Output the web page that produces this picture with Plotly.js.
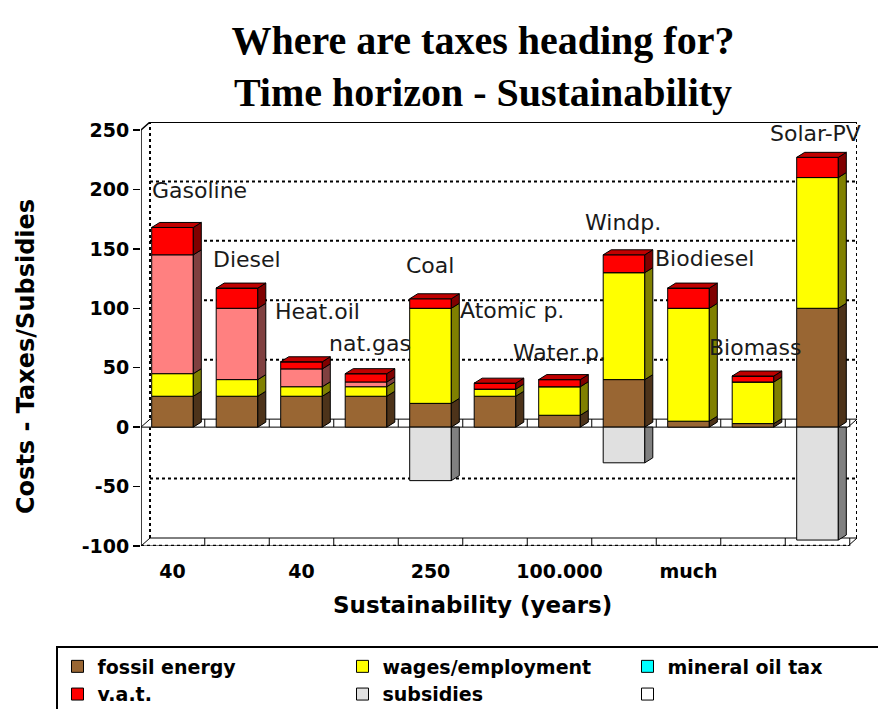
<!DOCTYPE html>
<html>
<head>
<meta charset="utf-8">
<script src="https://cdn.plot.ly/plotly-3.0.1.min.js"></script>
<style>
  html, body { margin: 0; padding: 0; background: #ffffff; }
  #chart { width: 878px; height: 709px; }
</style>
</head>
<body>
<div id="chart"></div>
<script>
// ---- data -------------------------------------------------------------
const categories = ['Gasoline', 'Diesel', 'Heat.oil', 'nat.gas', 'Coal', 'Atomic p.',
                    'Water p.', 'Windp.', 'Biodiesel', 'Biomass', 'Solar-PV'];
const sustainabilityYears = ['40', '', '40', '', '250', '', '100.000', '', 'much', '', ''];

const fossilEnergy    = [26, 26, 26, 26, 20, 26, 10, 40,  5,  3, 100];
const wagesEmployment = [19, 14,  8,  8, 80,  6, 24, 90, 95, 35, 110];
const mineralOilTax   = [100, 60, 15, 4,  0,  0,  0,  0,  0,  0,   0];
const vat             = [23, 17,  6,  7,  8,  5,  6, 15, 17,  5,  17];
const subsidies       = [ 0,  0,  0,  0, -45, 0,  0, -30, 0,  0, -95];

const yTicks = [-100, -50, 0, 50, 100, 150, 200, 250];

// ---- geometry of the pseudo-3D box (pixels) -----------------------------
const FRONT_LEFT = 141, FRONT_RIGHT = 848, FRONT_TOP = 130, FRONT_BOTTOM = 546;
const WALL_DX = 9, WALL_DY = 8;     // depth of the back wall
const BAR_DX = 8, BAR_DY = 5;       // depth of each column
const SLOT = 64.5;                  // width of one category
const FIRST_CENTER = 172.5;
const BAR_W = 0.645;                // column width in category units
const Y_MIN = -100, Y_MAX = 250;

const yPx = (FRONT_BOTTOM - FRONT_TOP) / (Y_MAX - Y_MIN);
const xStart = -(FIRST_CENTER - FRONT_LEFT) / SLOT;
const xFrontEnd = xStart + (FRONT_RIGHT - FRONT_LEFT) / SLOT;
const wdx = WALL_DX / SLOT, wdy = WALL_DY / yPx;
const bdx = BAR_DX / SLOT, bdy = BAR_DY / yPx;
const xEnd = xFrontEnd + wdx;
const yEnd = Y_MAX + wdy;
const plotW = FRONT_RIGHT + WALL_DX - FRONT_LEFT;
const plotH = FRONT_BOTTOM - FRONT_TOP + WALL_DY;
const paperX = px => (px - FRONT_LEFT) / plotW;
const paperY = py => (FRONT_BOTTOM - py) / plotH;

const xs = categories.map((_, i) => i);

// ---- series styling ----------------------------------------------------
const stack = [
  { name: 'fossil energy',     values: fossilEnergy,    color: '#996633', side: '#4d331a', top: '#7a5229' },
  { name: 'wages/employment',  values: wagesEmployment, color: '#ffff00', side: '#808000', top: '#cccc00' },
  { name: 'mineral oil tax',   values: mineralOilTax,   color: '#ff8080', side: '#804040', top: '#cc6666' },
  { name: 'v.a.t.',            values: vat,             color: '#ff0000', side: '#800000', top: '#c00000' }
];
const subsidyStyle = { color: '#e0e0e0', side: '#808080' };

const outline = { color: '#000000', width: 1 };
const traces = [];
const rank = { 'fossil energy': 1, 'wages/employment': 2, 'v.a.t.': 4 };
stack.forEach(s => {
  traces.push({
    type: 'bar', x: xs, y: s.values, name: s.name, width: BAR_W,
    marker: { color: s.color, line: outline },
    showlegend: s.name !== 'mineral oil tax',
    legendrank: rank[s.name] || 1000,
    hoverinfo: 'skip'
  });
});
traces.push({
  type: 'bar', x: xs, y: subsidies, name: 'subsidies', width: BAR_W,
  marker: { color: subsidyStyle.color, line: outline },
  legendrank: 5, hoverinfo: 'skip'
});
// legend keys without columns of their own
traces.push({
  type: 'bar', x: [null], y: [null], name: 'mineral oil tax',
  marker: { color: '#00ffff', line: outline }, legendrank: 3, hoverinfo: 'skip'
});
traces.push({
  type: 'bar', x: [null], y: [null], name: ' ',
  marker: { color: '#ffffff', line: outline }, legendrank: 6, hoverinfo: 'skip'
});

// ---- shapes: walls, floors, column depth ---------------------------------
function poly(pts, fill, layer, lineColor) {
  return {
    type: 'path', xref: 'x', yref: 'y', layer: layer || 'above',
    path: 'M' + pts.map(p => p[0] + ',' + p[1]).join('L') + 'Z',
    fillcolor: fill, line: { color: lineColor || '#000', width: 1 }
  };
}
function seg(x0, y0, x1, y1, dash, width, layer) {
  return {
    type: 'line', xref: 'x', yref: 'y', x0, y0, x1, y1, layer: layer || 'below',
    line: { color: '#000', width: width || 1.5, dash: dash || 'solid' }
  };
}
const dotted = '3px,3px';
const shapes = [];

// back wall gridlines
yTicks.filter(v => v !== 0 && v !== Y_MIN && v !== Y_MAX).forEach(v => {
  shapes.push(seg(xStart + wdx, v + wdy, xEnd, v + wdy, dotted, 2));
});
// wall edges
shapes.push(seg(xStart + wdx, Y_MIN + wdy, xStart + wdx, yEnd, dotted, 2));
shapes.push(seg(xEnd, Y_MIN + wdy, xEnd, yEnd, dotted, 2));
shapes.push(seg(xStart + wdx, yEnd, xEnd, yEnd, 'solid', 2));
shapes.push(seg(xStart, Y_MAX, xStart + wdx, yEnd, 'solid', 1.5));
shapes.push(seg(xStart, Y_MIN, xStart, Y_MAX, 'solid', 1.5));

// floor slabs at the bottom and at zero, divided per category
[Y_MIN, 0].forEach(base => {
  shapes.push(poly([[xStart, base], [xFrontEnd, base], [xEnd, base + wdy], [xStart + wdx, base + wdy]],
                   '#ffffff', 'below'));
  for (let i = 0; i < categories.length; i++) {
    const b = i + 0.5;
    shapes.push(seg(b, base, b, base + wdy, 'solid', 1));
  }
});
shapes.push(seg(xStart, Y_MIN, xFrontEnd, Y_MIN, dotted, 2.5, 'above'));

// column sides and tops
xs.forEach(i => {
  const xl = i - BAR_W / 2, xr = i + BAR_W / 2;
  let base = 0, topStyle = null;
  stack.forEach(s => {
    const v = s.values[i];
    if (v > 0) {
      const t = base + v;
      shapes.push(poly([[xr, base], [xr + bdx, base + bdy], [xr + bdx, t + bdy], [xr, t]], s.side));
      base = t;
      topStyle = s;
    }
  });
  if (topStyle) {
    shapes.push(poly([[xl, base], [xl + bdx, base + bdy], [xr + bdx, base + bdy], [xr, base]], topStyle.top));
  }
  const sv = subsidies[i];
  if (sv < 0) {
    shapes.push(poly([[xr, sv], [xr + bdx, sv + bdy], [xr + bdx, 0], [xr, 0]], subsidyStyle.side));
  }
});

// ---- category names above the columns ---------------------------------
const labelHeight = [199, 141, 97, 70, 136, 98, 63, 172, 142, 67, 247];
const labelShift  = [-23, -26, -29, -39, -27, -37, -49, -41, -36, -46, -50];
const annotations = categories.map((c, i) => ({
  x: i, y: labelHeight[i], xref: 'x', yref: 'y', text: c, showarrow: false,
  xanchor: 'left', yanchor: 'middle', xshift: labelShift[i],
  font: { family: 'DejaVu Sans', size: 22, color: '#1a1a1a' }
}));

// axis titles
const axisTitleFont = { family: 'DejaVu Sans', size: 23, weight: 'bold', color: '#000' };
annotations.push({
  xref: 'paper', yref: 'paper', x: paperX(472), y: paperY(605),
  xanchor: 'center', yanchor: 'middle', showarrow: false,
  text: 'Sustainability (years)', font: axisTitleFont
});
annotations.push({
  xref: 'paper', yref: 'paper', x: paperX(26), y: paperY(357),
  xanchor: 'center', yanchor: 'middle', showarrow: false, textangle: -90,
  text: 'Costs - Taxes/Subsidies', font: Object.assign({}, axisTitleFont, { size: 24 })
});

const tickIdx = xs.filter(i => sustainabilityYears[i] !== '');

const layout = {
  width: 878, height: 709,
  paper_bgcolor: '#ffffff', plot_bgcolor: 'rgba(0,0,0,0)',
  margin: { l: FRONT_LEFT, r: 878 - (FRONT_RIGHT + WALL_DX), t: FRONT_TOP - WALL_DY,
            b: 709 - FRONT_BOTTOM, autoexpand: false },
  barmode: 'relative',
  title: {
    text: 'Where are taxes heading for?<br>Time horizon - Sustainability',
    font: { family: 'Liberation Serif', size: 40, weight: 'bold', color: '#000' },
    xref: 'container', x: 483 / 878, xanchor: 'center',
    yref: 'container', y: 1 - 54 / 709, yanchor: 'top'
  },
  xaxis: {
    range: [xStart, xEnd], showgrid: false, zeroline: false, showline: false,
    tickmode: 'array', tickvals: tickIdx, ticktext: tickIdx.map(i => sustainabilityYears[i]),
    ticks: 'outside', ticklen: 8, tickcolor: 'rgba(0,0,0,0)',
    tickfont: { family: 'DejaVu Sans', size: 19, weight: 'bold', color: '#000' },
    automargin: false, fixedrange: true
  },
  yaxis: {
    range: [Y_MIN, yEnd], showgrid: false, zeroline: false, showline: false,
    tickmode: 'array', tickvals: yTicks, ticktext: yTicks.map(String),
    ticks: 'outside', ticklen: 7, tickwidth: 1.5, tickcolor: '#000',
    tickfont: { family: 'DejaVu Sans', size: 19, weight: 'bold', color: '#000' },
    automargin: false, fixedrange: true
  },
  legend: {
    orientation: 'h', traceorder: 'normal',
    x: paperX(56), xanchor: 'left',
    y: paperY(646), yanchor: 'top',
    bgcolor: '#ffffff', bordercolor: '#000', borderwidth: 1.5,
    entrywidth: 240, entrywidthmode: 'pixels',
    font: { family: 'DejaVu Sans', size: 19, weight: 'bold', color: '#000' }
  },
  shapes, annotations
};

Plotly.newPlot('chart', traces, layout, { displayModeBar: false, staticPlot: true });
</script>
</body>
</html>
